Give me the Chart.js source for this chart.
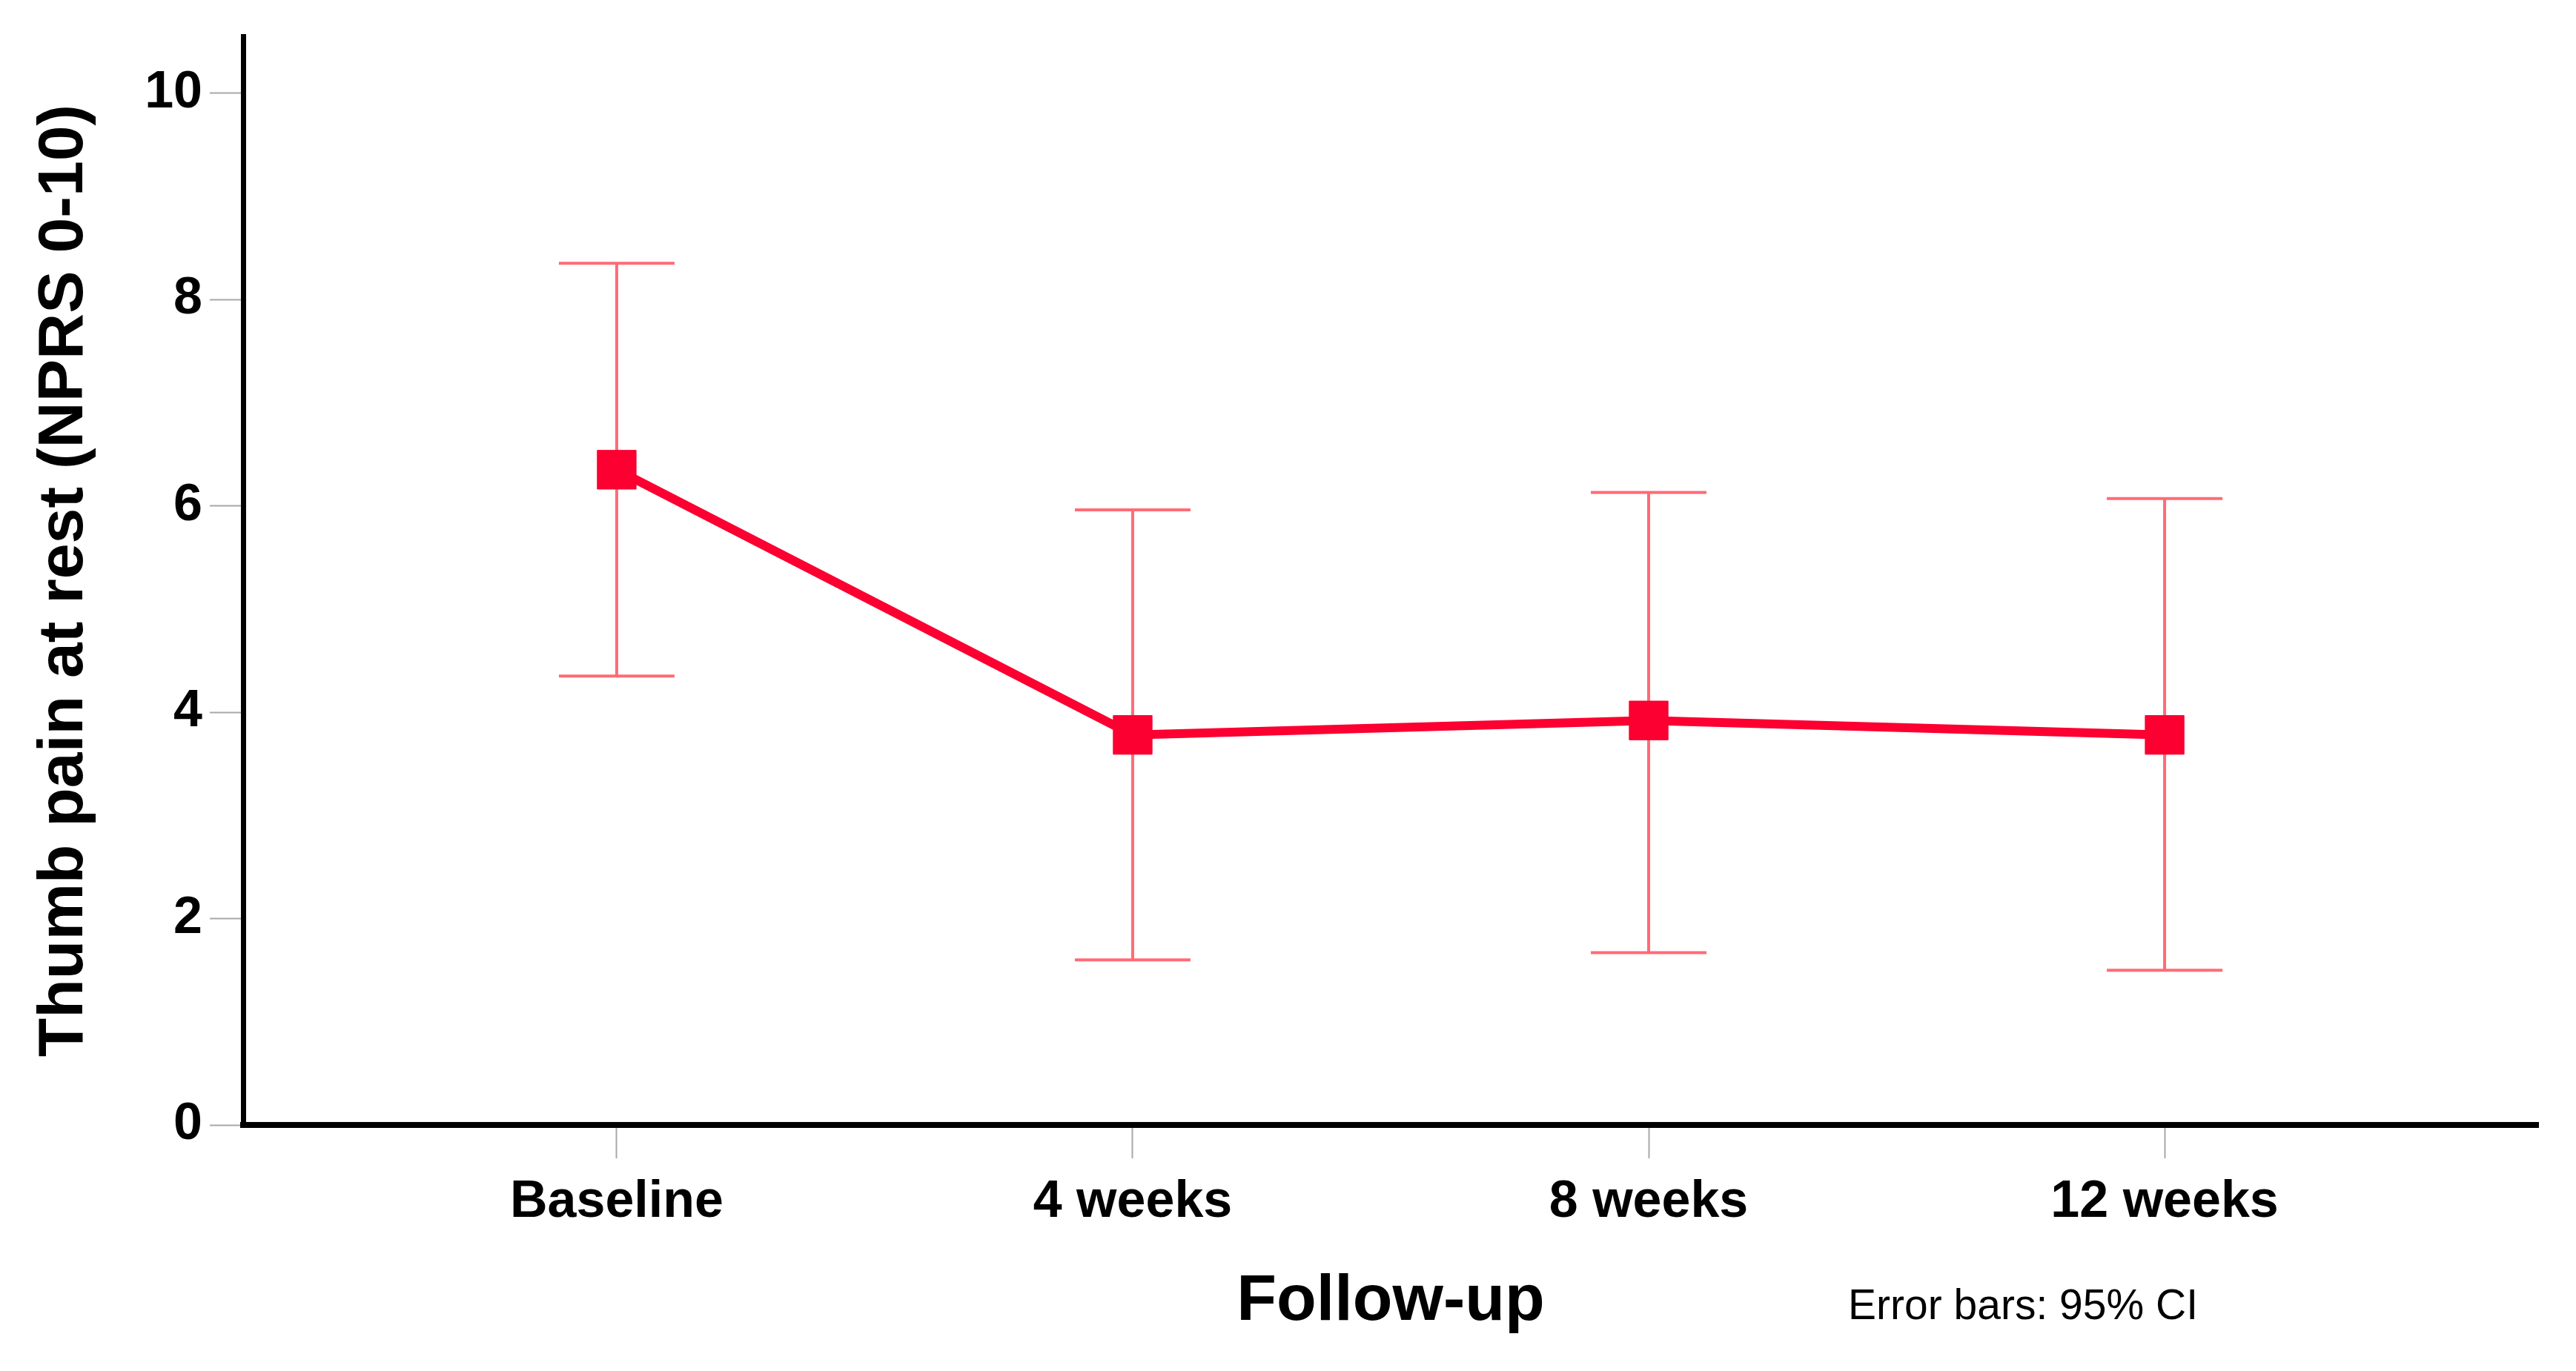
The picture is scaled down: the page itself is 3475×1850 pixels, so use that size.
<!DOCTYPE html>
<html><head><meta charset="utf-8">
<script src="https://cdn.jsdelivr.net/npm/chart.js@4.4.1/dist/chart.umd.min.js"></script>
<style>html,body{margin:0;padding:0;background:#fff;} #wrap{width:3475px;height:1850px;position:relative;background:#fff}</style>
</head><body><div id="wrap"><canvas id="c" width="3475" height="1850"></canvas></div>
<script>
const categories = ['Baseline', '4 weeks', '8 weeks', '12 weeks'];
const meanValues = [6.35, 3.78, 3.92, 3.78];
const ciLower = [4.35, 1.60, 1.67, 1.50];
const ciUpper = [8.35, 5.96, 6.13, 6.07];
const yTickValues = [0, 2, 4, 6, 8, 10];
const xTitle = 'Follow-up';
const yTitle = 'Thumb pain at rest (NPRS 0-10)';
const noteText = 'Error bars: 95% CI';

const FONT = '"Liberation Sans", Arial, sans-serif';
const lineColor = '#fb0030';
const errColor = '#ff6b76';

const meanPoints = categories.map((c, i) => ({x: i + 1, y: meanValues[i]}));
const errPoints = [];
categories.forEach((c, i) => {
  errPoints.push({x: i + 1, y: ciLower[i]});
  errPoints.push({x: i + 1, y: ciUpper[i]});
  errPoints.push({x: i + 1, y: null});
});

const notePlugin = {
  id: 'note',
  afterDraw(chart) {
    const ctx = chart.ctx;
    ctx.save();
    ctx.fillStyle = '#000';
    ctx.font = '57px ' + FONT;
    ctx.textAlign = 'left';
    ctx.textBaseline = 'middle';
    ctx.fillText(noteText, 2493, 1764);
    ctx.restore();
  }
};

new Chart(document.getElementById('c'), {
  type: 'line',
  data: {
    datasets: [
      {
        label: 'Mean',
        data: meanPoints,
        borderColor: lineColor,
        backgroundColor: lineColor,
        borderWidth: 12,
        pointStyle: 'rect',
        pointRadius: 37,
        pointBorderWidth: 1,
        pointBackgroundColor: lineColor,
        pointBorderColor: lineColor,
        tension: 0,
        order: 0
      },
      {
        label: 'CI',
        data: errPoints,
        borderColor: errColor,
        backgroundColor: errColor,
        borderWidth: 4,
        pointStyle: 'line',
        pointRadius: 78,
        pointBorderWidth: 4,
        pointBorderColor: errColor,
        spanGaps: false,
        tension: 0,
        order: 1
      }
    ]
  },
  options: {
    responsive: false,
    devicePixelRatio: 1,
    animation: false,
    events: [],
    layout: {autoPadding: false, padding: {top: 49, right: 51, left: 0, bottom: 0}},
    plugins: {legend: {display: false}, tooltip: {enabled: false}},
    scales: {
      x: {
        type: 'linear',
        min: 0.276,
        max: 4.724,
        afterBuildTicks: (scale) => { scale.ticks = categories.map((c, i) => ({value: i + 1})); },
        afterFit: (scale) => { scale.height = 332; scale.paddingLeft = 0; scale.paddingRight = 0; },
        grid: {drawOnChartArea: false, drawTicks: true, tickLength: 45, tickColor: '#a8a8a8', tickWidth: 2},
        border: {display: true, color: '#000', width: 8},
        ticks: {
          autoSkip: false,
          maxRotation: 0,
          padding: 18,
          color: '#000',
          font: {family: FONT, size: 70, weight: 'bold'},
          callback: (v) => categories[Math.round(v) - 1]
        },
        title: {display: true, text: xTitle, color: '#000', font: {family: FONT, size: 88, weight: 'bold'}, padding: {top: 0, bottom: 40}}
      },
      y: {
        type: 'linear',
        min: 0,
        max: 10.55,
        afterBuildTicks: (scale) => { scale.ticks = yTickValues.map(v => ({value: v})); },
        afterFit: (scale) => { scale.width = 328; scale.paddingTop = 0; scale.paddingBottom = 0; },
        grid: {drawOnChartArea: false, drawTicks: true, tickLength: 45, tickColor: '#a8a8a8', tickWidth: 2},
        border: {display: true, color: '#000', width: 7},
        ticks: {
          padding: 10,
          color: '#000',
          font: {family: FONT, size: 70, weight: 'bold'}
        },
        title: {display: true, text: yTitle, color: '#000', font: {family: FONT, size: 86, weight: 'bold'}, padding: {top: 36, bottom: 0}}
      }
    }
  },
  plugins: [notePlugin]
});
</script>
</body></html>
